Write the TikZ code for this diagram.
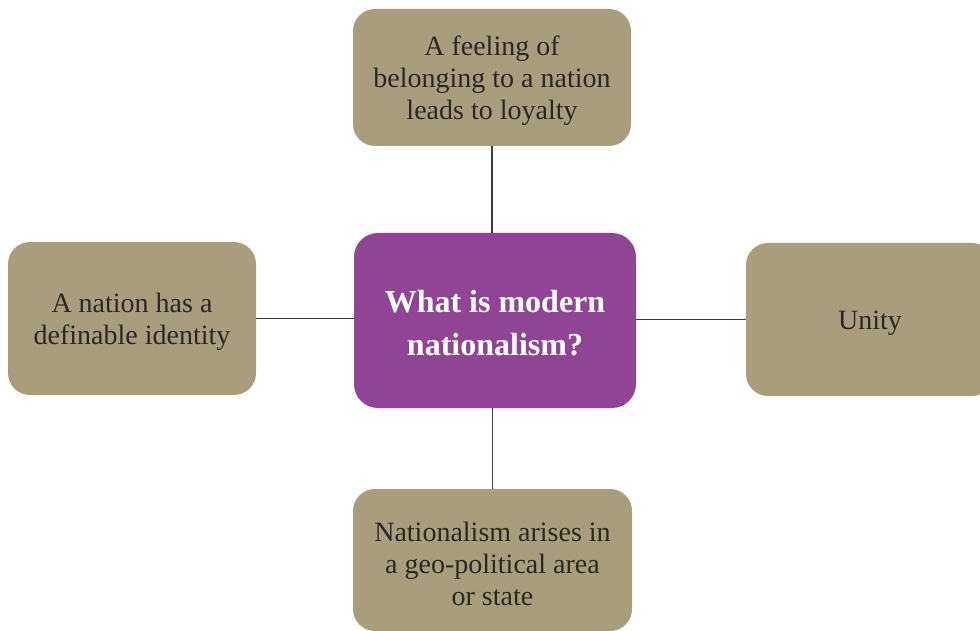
\documentclass[tikz,border=0pt]{standalone}
\usepackage{fontspec}
\setmainfont{Liberation Serif}
\usetikzlibrary{positioning}
\definecolor{sand}{HTML}{A89E7B}
\definecolor{plum}{HTML}{8F4496}
\definecolor{ink}{HTML}{2A2827}
\definecolor{wirecol}{HTML}{3C3C3C}
\newcommand{\lift}{\rule{0pt}{27pt}}

\begin{document}
\begin{tikzpicture}[x=1pt,y=1pt,
  topic/.style={fill=sand,text=ink,rounded corners=22pt,align=center,inner sep=0pt,font=\fontsize{28}{32}\selectfont},
  hub/.style={fill=plum,text=white,rounded corners=24pt,align=center,inner sep=0pt,font=\bfseries\fontsize{32}{43}\selectfont},
  wire/.style={draw=wirecol,line width=1.4pt}]
\useasboundingbox (0,0) rectangle (980,630);
\clip (0,0) rectangle (980,630);
\node[hub,minimum width=282,minimum height=175] (question) at(495,309.5){\lift What is modern\\nationalism?};
\node[topic,minimum width=278,minimum height=137] (feeling) at(492,552.5){\lift A feeling of\\belonging to a nation\\leads to loyalty};
\node[topic,minimum width=248,minimum height=153] (identity) at(132,311.5){\lift A nation has a\\definable identity};
\node[topic,minimum width=248,minimum height=153] (unity) at(870,310.5){\lift Unity};
\node[topic,minimum width=279,minimum height=142] (arises) at(492.5,70){\lift Nationalism arises in\\a geo-political area\\or state};
\draw[wire] (feeling.south) -- (feeling.south |- question.north);
\draw[wire] (arises.north) -- (arises.north |- question.south);
\draw[wire] (identity.east) -- (identity.east -| question.west);
\draw[wire] (unity.west) -- (unity.west -| question.east);
\end{tikzpicture}
\end{document}
